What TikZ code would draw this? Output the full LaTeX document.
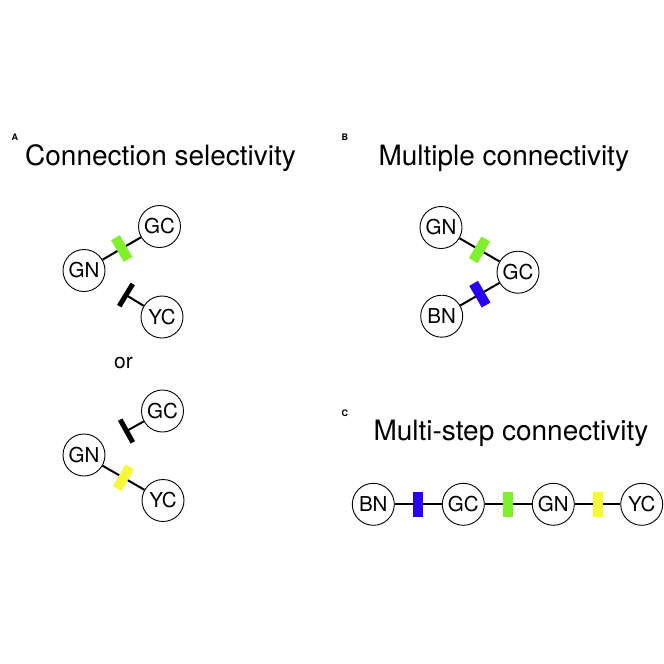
\documentclass[tikz,border=0pt]{standalone}
\usepackage{fontspec}
\setmainfont{TeX Gyre Heros}
\definecolor{gGreen}{HTML}{80F02A}
\definecolor{gYellow}{HTML}{F8F83A}
\definecolor{gBlue}{HTML}{2A00F2}
\begin{document}
\begin{tikzpicture}[x=1pt,y=-1pt,
  cell/.style={circle, draw, line width=0.9pt, minimum size=42pt, inner sep=0pt, font=\fontsize{20.5}{20.5}\selectfont},
  conn/.style={line width=2pt},
  gate/.style={sloped, minimum width=10pt, minimum height=25pt, inner sep=0pt, draw=none, fill=#1},
  tbar/.style={sloped, minimum width=5pt, minimum height=26pt, inner sep=0pt, draw=none, fill=black},
  title/.style={anchor=base west, inner sep=0pt, font=\fontsize{28}{28}\selectfont},
  panel/.style={anchor=base west, inner sep=0pt, font=\bfseries\fontsize{9}{9}\selectfont}]
\useasboundingbox (0,0) rectangle (664,664);
% Panel A
\node[panel] (la) at (11.5,140.7) {A};
\node[title] (ta) at (25,165) {Connection selectivity};
\node[cell] (a1gn) at (84,270.5) {GN};
\node[cell] (a1gc) at (159.5,226.5) {GC};
\node[cell] (a1yc) at (162,317) {YC};
\coordinate (a1t) at (126,295);
\draw[conn] (a1gn) -- node[gate=gGreen]{} (a1gc);
\draw[conn] (a1yc) -- (a1t) node[tbar, pos=1]{};
\node[anchor=base, inner sep=0pt, font=\fontsize{21}{21}\selectfont] (or) at (123.5,368.3) {or};
\node[cell] (a2gc) at (162.5,411) {GC};
\node[cell] (a2gn) at (84,455) {GN};
\node[cell] (a2yc) at (163,500.5) {YC};
\coordinate (a2t) at (126.5,431);
\draw[conn] (a2gc) -- (a2t) node[tbar, pos=1]{};
\draw[conn] (a2gn) -- node[gate=gYellow]{} (a2yc);
% Panel B
\node[panel] (lb) at (341.5,140.7) {B};
\node[title] (tb) at (378.3,165) {Multiple connectivity};
\node[cell] (bgn) at (441,227.5) {GN};
\node[cell] (bgc) at (518,272.2) {GC};
\node[cell] (bbn) at (441.7,316.2) {BN};
\draw[conn] (bgn) -- node[gate=gGreen]{} (bgc);
\draw[conn] (bbn) -- node[gate=gBlue]{} (bgc);
% Panel C
\node[panel] (lc) at (341.5,416) {C};
\node[title] (tc) at (373.3,440) {Multi-step connectivity};
\node[cell] (cbn) at (373.3,504.3) {BN};
\node[cell] (cgc) at (463.3,504.3) {GC};
\node[cell] (cgn) at (553.3,504.3) {GN};
\node[cell] (cyc) at (641.7,504.3) {YC};
\draw[conn] (cbn) -- node[gate=gBlue]{} (cgc);
\draw[conn] (cgc) -- node[gate=gGreen]{} (cgn);
\draw[conn] (cgn) -- node[gate=gYellow]{} (cyc);
\end{tikzpicture}
\end{document}
